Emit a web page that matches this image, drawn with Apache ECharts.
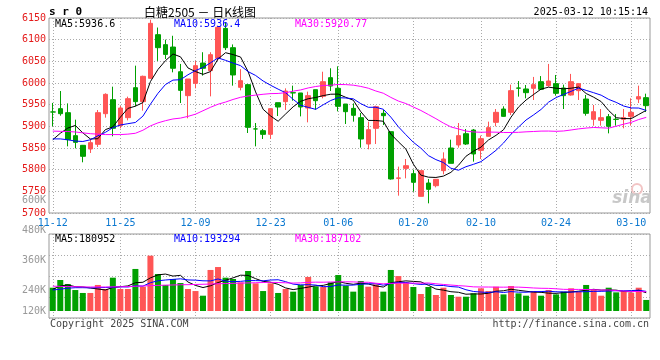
<!DOCTYPE html>
<html><head><meta charset="utf-8">
<script src="https://cdn.jsdelivr.net/npm/echarts@6/dist/echarts.min.js"></script>
<style>html,body{margin:0;padding:0;background:#fff}#c{width:660px;height:360px}</style>
</head><body><div id="c"></div>
<script>
const dates = ['11-12','11-13','11-14','11-15','11-18','11-19','11-20','11-21','11-22','11-25','11-26','11-27','11-28','11-29','12-02','12-03','12-04','12-05','12-06','12-09','12-10','12-11','12-12','12-13','12-16','12-17','12-18','12-19','12-20','12-23','12-24','12-25','12-26','12-27','12-30','12-31','01-02','01-03','01-06','01-07','01-08','01-09','01-10','01-13','01-14','01-15','01-16','01-17','01-20','01-21','01-22','01-23','01-24','01-27','02-05','02-06','02-07','02-10','02-11','02-12','02-13','02-14','02-17','02-18','02-19','02-20','02-21','02-24','02-25','02-26','02-27','02-28','03-03','03-04','03-05','03-06','03-07','03-10','03-11','03-12'];
const opens = [5933.2,5940.8,5931.5,5878.5,5856.2,5847.7,5858.5,5929.2,5961.5,5901.5,5920,5989.2,5957,6010.8,6111.5,6088.5,6083,6026,5970.8,5999.2,6046,6028.5,6057,6126,6081.5,5990,5996.2,5894,5890,5881.5,5954.6,5957,5977.7,5977,5942.3,5984.6,5969.2,6012.3,5987.7,5951.5,5941.5,5920,5859.2,5895.4,5930,5887.7,5780,5803,5790.8,5738.5,5769.2,5763,5797.7,5850,5857,5883,5891.5,5844.6,5877,5909.2,5940,5932.3,5988.5,5986.2,5987.7,6003,5993.9,5998.5,5988.5,5972.3,5982.3,5963,5916.2,5913.8,5922.3,5916.2,5916.2,5923,5963,5966.2];
const closes = [5933.0,5929.2,5869.2,5863.0,5830.8,5862.3,5931.5,5973.8,5895.4,5942.3,5963.8,5957.0,6015.4,6137.7,6081.5,6066.0,6034.0,5983.0,6009.2,6040.0,6034.0,6065.4,6128.5,6081.5,6018.5,6005.4,5897.7,5894.0,5881.5,5940.8,5944.6,5981.5,5977.0,5944.6,5970.8,5959.2,6003.0,5993.0,5946.2,5933.8,5925.4,5870.8,5892.3,5945.4,5924.6,5778.5,5781.0,5809.2,5770.8,5797.7,5754.6,5777.7,5824.6,5814.6,5878.5,5859.2,5836.2,5871.5,5897.0,5932.3,5923.0,5982.3,5988.0,5977.7,5996.2,5985.4,6004.6,5976.2,5970.8,6003.0,5998.5,5930.0,5933.8,5920.0,5900.0,5916.0,5920.0,5932.3,5968.5,5947.7];
const lows = [5900,5924.6,5853.8,5849.2,5817,5838.5,5852.3,5920,5877,5895.4,5913.8,5946.2,5936.2,6009.2,6051,6055.4,6024.6,5953.8,5918.5,5987.7,6017,5969.2,6051.5,6076,5993.9,5983,5884.6,5853.8,5870.8,5870.8,5923.8,5937.7,5959.2,5923,5909.2,5938.5,5964.6,5981.5,5934.6,5905.4,5910.8,5850.8,5847,5859.2,5903,5777,5740,5780,5749.2,5738.5,5722.3,5759.2,5789.2,5814.6,5850.8,5857,5818.5,5824.6,5877,5900,5922.3,5926.2,5968.5,5964.6,5960.8,5983.8,5991.5,5970.8,5940,5970.8,5960.8,5924.6,5901.5,5901.5,5883.8,5901.5,5895.4,5901.5,5953.8,5933];
const highs = [5954,5981.5,5953,5915.4,5857,5870.8,5937.7,5976.2,5991.5,5947,5968.5,6040,6017,6146,6128,6100,6109,6044,6009.2,6051,6071,6071,6132,6140,6089,6032,5997.7,5907.7,5893.9,5940.8,5954.6,5987.7,5993.9,5977,5980,5984.6,6026,6034,6038.5,5951.5,5953,5930.8,5910.8,5947.7,5937.7,5887.7,5807,5824.6,5800,5797.7,5778.5,5778.5,5840,5869.2,5907.7,5893.9,5893.9,5878.5,5910.8,5940,5946.2,5996.2,6004.6,5995.4,6014,6016,6044,6018.5,5996.2,6021,6000,5972.3,5949.2,5940,5928.5,5928.5,5940,5964.6,5993.9,5975.4];
const ma5 = [5869,5884,5896,5902,5885.0,5870.9,5871.4,5892.3,5898.8,5921.1,5941.4,5946.5,5954.8,6003.2,6031.1,6051.5,6066.9,6060.4,6034.7,6026.4,6020.0,6026.3,6055.4,6069.9,6065.6,6059.9,6026.3,5979.4,5939.4,5923.9,5911.7,5928.5,5945.1,5957.7,5963.7,5966.6,5970.9,5974.1,5974.4,5967.0,5960.3,5933.8,5913.7,5913.5,5911.7,5882.3,5864.4,5847.7,5812.8,5787.4,5782.7,5782.0,5785.1,5793.8,5810.0,5830.9,5842.6,5852.0,5868.5,5879.2,5892.0,5921.2,5944.5,5960.7,5973.4,5985.9,5990.4,5988.0,5986.6,5988.0,5990.6,5975.7,5967.2,5957.1,5936.5,5920.0,5918.0,5917.7,5927.4,5936.9];
const ma10 = [5871,5871,5869,5866,5865,5869,5878,5886,5897,5903.1,5906.1,5908.9,5923.5,5951.0,5976.1,5996.4,6006.7,6007.6,6019.0,6028.8,6035.8,6046.6,6057.9,6052.3,6046.0,6040.0,6026.3,6017.4,6004.7,5994.7,5985.8,5977.4,5962.3,5948.6,5943.8,5939.2,5949.7,5959.6,5966.1,5965.4,5963.5,5952.4,5943.9,5944.0,5939.4,5921.3,5899.1,5880.7,5863.2,5849.6,5832.5,5823.2,5816.4,5803.3,5798.7,5806.8,5812.3,5818.5,5831.2,5844.6,5861.5,5881.9,5898.3,5914.6,5926.3,5939.0,5955.8,5966.3,5973.7,5980.7,5988.3,5983.0,5977.6,5971.9,5962.2,5955.3,5946.8,5942.4,5942.2,5936.7];
const ma30 = [5889,5888.5,5888,5887,5885,5883,5882,5881,5881,5881,5882,5884,5891,5901,5908,5913,5917,5919,5923,5928,5936,5944,5951,5956,5962,5967,5970,5972,5974,5975.5,5975.9,5977.6,5981.2,5984.0,5988.6,5991.9,5994.2,5994.9,5996.6,5996.3,5995.0,5992.1,5988.0,5981.6,5976.4,5966.8,5958.4,5952.6,5944.6,5936.6,5927.2,5917.7,5907.5,5898.6,5894.0,5889.1,5887.0,5886.3,5886.8,5886.5,5885.8,5885.8,5886.2,5887.3,5888.1,5889.0,5889.1,5888.5,5889.3,5891.6,5894.1,5896.0,5897.4,5896.6,5895.8,5900.3,5905.0,5909.1,5915.7,5920.7];
// volumes in thousands of lots
const volumesK = [230,306,266,207,178,178,257,217,329,217,217,415,240,546,365,257,316,276,217,197,151,405,434,329,316,283,395,273,197,273,178,217,191,257,336,243,237,283,355,250,191,296,240,263,191,405,345,283,237,168,237,158,230,158,141,141,174,224,197,240,164,247,174,151,197,151,207,164,191,224,191,257,207,151,230,184,197,181,230,109];
const volMa5K = [214,247,257,240,237.4,227,217.2,207.4,231.8,239.6,247.4,279,283.6,327,356.6,364.6,344.8,352,286.2,252.6,231.4,249.2,280.8,303.2,327,353.4,351.4,319.2,292.8,284.2,263.2,227.6,211.2,223.2,235.8,248.8,252.8,271.2,290.8,273.6,263.2,275,266.4,248,236.2,279,288.8,297.4,292.2,287.6,254,216.6,206,190.2,184.8,165.6,168.8,167.6,175.4,195.2,199.8,214.4,204.4,195.2,186.6,184,176,174,182,187.4,195.4,205.4,214,206,207.2,205.8,193.8,188.6,204.4,180.2];
const volMa10K = [207,215,225,230,230,228,230,232,235,238.5,237.2,248.1,245.5,279.4,298.1,306,311.9,317.8,306.6,304.6,298,297,316.4,294.7,289.8,292.4,300.3,300,298,305.6,308.3,289.5,265.2,258,260,256,240.2,241.2,257,254.7,256,263.9,268.8,269.4,254.9,271.1,281.9,281.9,270.1,261.9,266.5,252.7,251.7,241.2,236.2,209.8,192.7,186.8,182.8,190,182.7,191.6,186,185.3,190.9,191.9,195.2,189.2,188.6,187,189.7,190.7,194,194,197.3,200.6,199.6,201.3,205.2,193.7];
const volMa30K = [245,243,241,240,238,237,237,237,238,239,241,244,247,250,253,255,257,259,260,262,264,266,269,271,273,275,277,279,281,282.9,281.2,278.2,275.7,277.4,282.6,284.8,284.1,286.3,287.2,288.3,287.4,283.5,283.5,274,268.2,273.2,274.1,274.4,275,274.1,276.9,268.7,261.9,256.2,250.4,245.6,238.3,236.6,236.6,235.5,235.1,236.1,235.5,232,227.3,224.3,223.3,219.3,213.8,213,213,211.7,210.6,206.8,208.1,200.8,195.8,192.4,192.2,190.2];
const xTickLabels = ['11-12','11-25','12-09','12-23','01-06','01-20','02-10','02-24','03-10'];
const priceTickMin = 5700, priceTickMax = 6150, priceTickStep = 50;
const volTickLabelsK = [120,240,360,480,600];
const headerPrice = ['MA5:5936.6','MA10:5936.4','MA30:5920.77'];
const headerVol = ['MA5:180952','MA10:193294','MA30:187102'];

const mono = '"DejaVu Sans Mono","Liberation Mono",monospace';
const upColor = '#ff5555', downColor = '#00a000';
const gridLine = {color:'#aaaaaa', type:[1,2], width:1};
const showTick = (idx) => xTickLabels.indexOf(dates[idx]) >= 0;
const vol = volumesK.map(v => v * 1000);

const chart = echarts.init(document.getElementById('c'), null, {renderer:'canvas'});
const txt = (x, y, text, color, align, font, z) => ({type:'text', x, y, z: z || 100,
  style:{text, fill:color, align:align || 'left', verticalAlign:'middle', font: font || ('10px ' + mono)}});

chart.setOption({
  animation:false,
  backgroundColor:'#ffffff',
  grid:[
    {left:49, width:601, top:18, height:195, show:true, borderColor:'#999', borderWidth:1},
    {left:49, width:601, top:234, height:84, show:true, borderColor:'#999', borderWidth:1},
    {left:49, width:601, top:234, height:77, show:false},
    {left:49, width:601, top:200, height:121, show:false}
  ],
  xAxis:[
    {gridIndex:0, type:'category', data:dates, boundaryGap:true, axisLine:{show:false}, axisTick:{show:false},
      axisLabel:{interval:showTick, color:'#0b78d0', fontFamily:mono, fontSize:10, margin:5},
      splitLine:{show:true, interval:showTick, alignWithLabel:true, lineStyle:gridLine}},
    {gridIndex:1, type:'category', data:dates, boundaryGap:true, axisLine:{show:false}, axisTick:{show:false},
      axisLabel:{show:false}, splitLine:{show:true, interval:showTick, alignWithLabel:true, lineStyle:gridLine}},
    {gridIndex:2, type:'category', data:dates, boundaryGap:true, show:false},
    {gridIndex:3, type:'category', data:dates, boundaryGap:true, show:false}
  ],
  yAxis:[
    {gridIndex:0, type:'value', min:priceTickMin, max:priceTickMax, interval:priceTickStep, axisLine:{show:false}, axisTick:{show:false},
      axisLabel:{color:'#e41a1a', fontFamily:mono, fontSize:10, margin:3, padding:[0,0,4,0], formatter:v => String(v)},
      splitLine:{show:true, lineStyle:gridLine}},
    {gridIndex:1, type:'value', min:0, max:4, interval:1, axisLine:{show:false}, axisTick:{show:false}, axisLabel:{show:false},
      splitLine:{show:true, lineStyle:gridLine}},
    {gridIndex:2, type:'value', min:0, max:760000, show:false, splitLine:{show:false}},
    {gridIndex:3, type:'value', min:volTickLabelsK[0]*1000, max:volTickLabelsK[volTickLabelsK.length-1]*1000, interval:120000,
      axisLine:{show:false}, axisTick:{show:false}, splitLine:{show:false},
      axisLabel:{color:'#999', fontFamily:mono, fontSize:10, margin:3,
        formatter:v => v === volTickLabelsK[0]*1000 ? '{lo|' + (v/1000) + 'K}' : (v/1000) + 'K',
        rich:{lo:{padding:[0,0,20,0], color:'#999', fontFamily:mono, fontSize:10}}}}
  ],
  series:[
    {type:'candlestick', xAxisIndex:0, yAxisIndex:0, barWidth:5,
      data:dates.map((d,i) => [opens[i], closes[i], lows[i], highs[i]]),
      itemStyle:{color:upColor, color0:downColor, borderColor:upColor, borderColor0:downColor, borderWidth:1}},
    {type:'line', xAxisIndex:0, yAxisIndex:0, data:ma5, symbol:'none', lineStyle:{color:'#000', width:1}},
    {type:'line', xAxisIndex:0, yAxisIndex:0, data:ma10, symbol:'none', lineStyle:{color:'#0000ff', width:1}},
    {type:'line', xAxisIndex:0, yAxisIndex:0, data:ma30, symbol:'none', lineStyle:{color:'#ff00ff', width:1}},
    {type:'bar', xAxisIndex:2, yAxisIndex:2, barWidth:6,
      data:vol.map((v,i) => ({value:v, itemStyle:{color: closes[i] >= opens[i] ? upColor : downColor}}))},
    {type:'line', xAxisIndex:2, yAxisIndex:2, data:volMa5K.map(v=>v*1000), symbol:'none', lineStyle:{color:'#000', width:1}},
    {type:'line', xAxisIndex:2, yAxisIndex:2, data:volMa10K.map(v=>v*1000), symbol:'none', lineStyle:{color:'#0000ff', width:1}},
    {type:'line', xAxisIndex:2, yAxisIndex:2, data:volMa30K.map(v=>v*1000), symbol:'none', lineStyle:{color:'#ff00ff', width:1}}
  ],
  graphic:[
    txt(49, 12, 's r 0', '#000', 'left', 'bold 11px ' + mono),
    txt(200, 12, '白糖2505 － 日K线图', '#000', 'center', '12px "Noto Sans CJK SC"'),
    txt(648, 12, '2025-03-12 10:15:14', '#000', 'right'),
    txt(55, 24, headerPrice[0], '#000'),
    txt(174, 24, headerPrice[1], '#0000ff'),
    txt(295, 24, headerPrice[2], '#ff00ff'),
    txt(55, 239.5, headerVol[0], '#000'),
    txt(174, 239.5, headerVol[1], '#0000ff'),
    txt(295, 239.5, headerVol[2], '#ff00ff'),
    txt(50, 324, 'Copyright 2025 SINA.COM', '#444'),
    txt(649, 324, 'http://finance.sina.com.cn', '#444', 'right'),
    {type:'circle', z:1, shape:{cx:637, cy:189, r:5}, style:{fill:'none', stroke:'#f2c4c4', lineWidth:2}},
    txt(632, 199, 'sina', '#c8c8c8', 'center', 'italic bold 17px "DejaVu Sans"', 1)
  ]
});
</script>
</body></html>
